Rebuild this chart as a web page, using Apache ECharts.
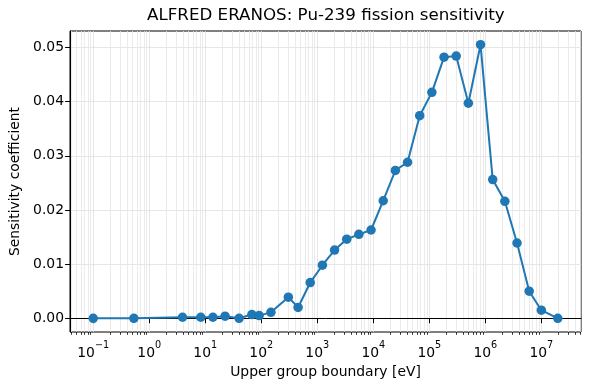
<!DOCTYPE html>
<html>
<head>
<meta charset="utf-8">
<script src="https://cdn.jsdelivr.net/npm/echarts@6/dist/echarts.min.js"></script>
<style>
  html, body { margin: 0; padding: 0; background: #fff; }
  #main { width: 590px; height: 390px; }
</style>
</head>
<body>
<div id="main"></div>
<script>
// upper group boundaries (eV), ECCO-33
const energies = [1.0e-1, 5.3158e-1, 3.9279, 8.3153, 13.710, 22.603, 40.169, 67.904, 91.661, 148.63,
  304.33, 454.00, 748.52, 1234.1, 2034.7, 3354.6, 5530.8, 9118.8, 15034, 24788, 40868, 67379,
  111090, 183160, 301970, 497870, 820850, 1353400, 2231300, 3678800, 6065300, 1.0e7, 1.964e7];
// Pu-239 fission sensitivity per group
const sensitivity = [0.0000, 0.0000, 0.0002, 0.0002, 0.0002, 0.0004, 0.0000, 0.0007, 0.0005, 0.0011,
  0.0039, 0.0020, 0.0066, 0.0098, 0.0126, 0.0146, 0.0155, 0.0163, 0.0217, 0.0273, 0.0288, 0.0374,
  0.0417, 0.0482, 0.0484, 0.0397, 0.0505, 0.0256, 0.0216, 0.0139, 0.0050, 0.0015, 0.0000];

const xTicks = [1e-1, 1e0, 1e1, 1e2, 1e3, 1e4, 1e5, 1e6, 1e7];
const yTicks = [0, 0.01, 0.02, 0.03, 0.04, 0.05];

// matplotlib style 5% margins in log space
const lx0 = Math.log10(energies[0]), lx1 = Math.log10(energies[energies.length - 1]);
const xMin = Math.pow(10, lx0 - 0.05 * (lx1 - lx0));
const xMax = Math.pow(10, lx1 + 0.05 * (lx1 - lx0));
const yLo = Math.min(...sensitivity), yHi = Math.max(...sensitivity);
const yMin = yLo - 0.05 * (yHi - yLo);
const yMax = yHi + 0.05 * (yHi - yLo);

// minor log ticks 2..9 x 10^k
const xMinor = [];
for (let d = -2; d <= 7; d++) {
  for (let m = 2; m <= 9; m++) {
    const v = m * Math.pow(10, d);
    if (v > xMin && v < xMax) xMinor.push(v);
  }
}

const font = 'DejaVu Sans';
const supMinus = e => (e < 0 ? '\u2212' + (-e) : '' + e);

const option = {
  animation: false,
  backgroundColor: '#fff',
  textStyle: { fontFamily: font, color: '#000' },
  title: {
    text: 'ALFRED ERANOS: Pu-239 fission sensitivity',
    left: 147,
    top: 7,
    padding: 0,
    textStyle: { fontFamily: font, fontSize: 16.7, fontWeight: 'normal', color: '#000' }
  },
  grid: {
    left: 70, right: 9, top: 31, bottom: 58,
    show: true, borderColor: '#000', borderWidth: 1, backgroundColor: 'transparent'
  },
  xAxis: [
    {
      type: 'log',
      logBase: 10,
      min: xMin,
      max: xMax,
      name: 'Upper group boundary [eV]',
      nameLocation: 'middle',
      nameGap: 33,
      nameTextStyle: { fontFamily: font, fontSize: 13.9, color: '#000' },
      axisLine: { lineStyle: { color: '#000', width: 1 } },
      axisTick: { customValues: xTicks, length: 4.9, lineStyle: { color: '#000', width: 1 } },
      axisLabel: {
        customValues: xTicks,
        margin: 8,
        formatter: v => {
          const e = Math.round(Math.log10(v));
          return '{b|10}{e|' + supMinus(e) + '}';
        },
        rich: {
          b: { fontFamily: font, fontSize: 13.9, color: '#000', lineHeight: 20, verticalAlign: 'bottom' },
          e: { fontFamily: font, fontSize: 9.7, color: '#000', lineHeight: 12, verticalAlign: 'top' }
        }
      },
      splitLine: { show: true, lineStyle: { color: '#e0e0e0', width: 0.8 } }
    },
    {
      type: 'log',
      logBase: 10,
      min: xMin,
      max: xMax,
      position: 'bottom',
      axisLine: { show: false },
      axisTick: { customValues: xMinor, length: 2.8, lineStyle: { color: '#000', width: 0.8 } },
      axisLabel: { show: false },
      splitLine: { show: true, lineStyle: { color: '#e6e6e6', width: 0.8 } }
    }
  ],
  yAxis: {
    type: 'value',
    min: yMin,
    max: yMax,
    name: 'Sensitivity coefficient',
    nameLocation: 'middle',
    nameGap: 45,
    nameTextStyle: { fontFamily: font, fontSize: 13.9, color: '#000' },
    axisLine: { show: true, lineStyle: { color: '#000', width: 1 } },
    axisTick: { show: true, customValues: yTicks, length: 4.9, lineStyle: { color: '#000', width: 1 } },
    axisLabel: {
      customValues: yTicks,
      margin: 6,
      fontFamily: font,
      fontSize: 13.9,
      color: '#000',
      formatter: v => v.toFixed(2)
    },
    splitLine: { show: true, lineStyle: { color: '#e0e0e0', width: 0.8 } }
  },
  series: [
    {
      type: 'line',
      xAxisIndex: 0,
      data: energies.map((e, i) => [e, sensitivity[i]]),
      symbol: 'circle',
      symbolSize: 9.5,
      showSymbol: true,
      lineStyle: { color: '#1f77b4', width: 2 },
      itemStyle: { color: '#1f77b4' },
      z: 5
    }
  ]
};

const chart = echarts.init(document.getElementById('main'));
chart.setOption(option);
</script>
</body>
</html>
